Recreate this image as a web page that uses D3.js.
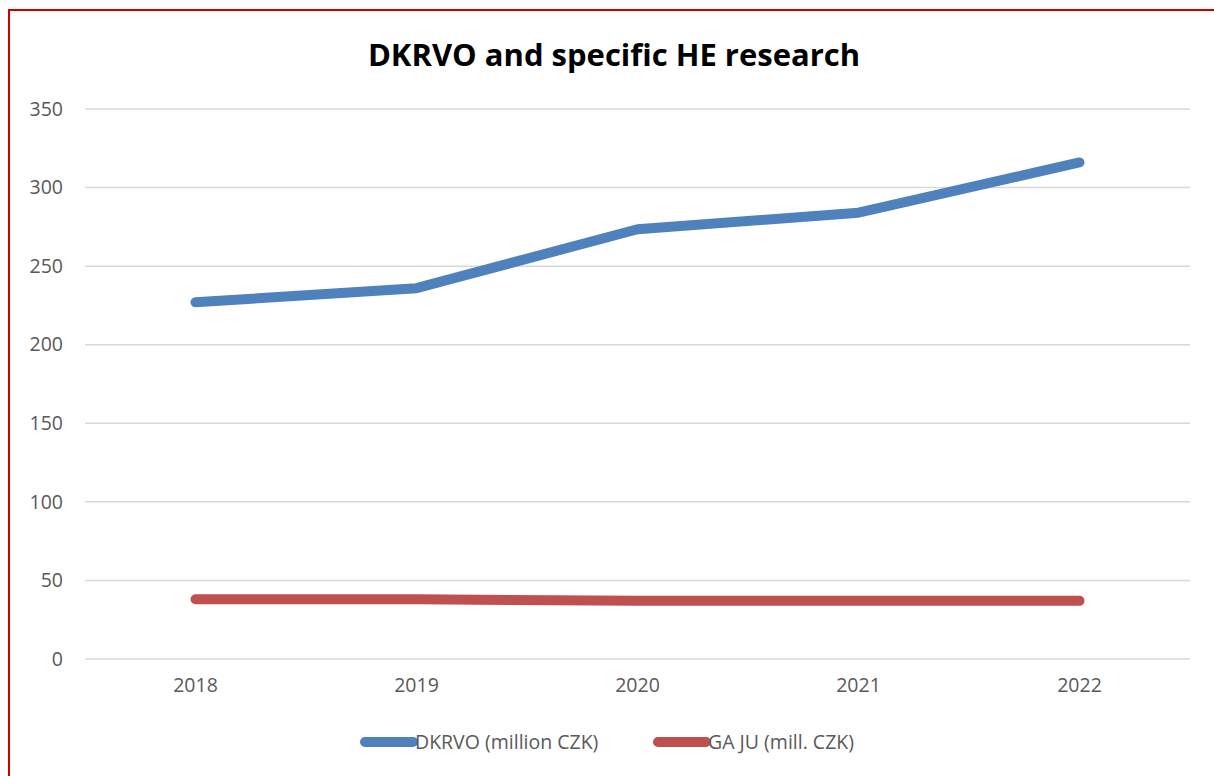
<!DOCTYPE html>
<html>
<head>
<meta charset="utf-8">
<script src="https://cdn.jsdelivr.net/npm/d3@7"></script>
<style>
  body { margin: 0; background: #fff; }
  svg text { font-family: "Open Sans", "Noto Sans", sans-serif; }
</style>
</head>
<body>
<svg id="chart" width="1214" height="776"></svg>
<script>
var years = ["2018", "2019", "2020", "2021", "2022"],
	dkrvo = [227, 236, 273.5, 284, 316],
	gaju = [38, 38, 37, 37, 37],
	yTicks = [0, 50, 100, 150, 200, 250, 300, 350],
	seriesNames = ["DKRVO (million CZK)", "GA JU (mill. CZK)"],
	seriesColors = ["#4f81bd", "#c0504d"];

var svg = d3.select("#chart"),
	plotLeft = 85, plotRight = 1190, plotTop = 109, plotBottom = 659;

// red outer frame (only left and top visible)
svg.append("rect")
	.attr("x", 9).attr("y", 10)
	.attr("width", 1240).attr("height", 800)
	.attr("fill", "none").attr("stroke", "#cc0000").attr("stroke-width", 2);

var x = d3.scaleBand().domain(years).range([plotLeft, plotRight]);
var y = d3.scaleLinear().domain([0, 350]).range([plotBottom, plotTop]);

// gridlines
svg.append("g")
	.selectAll("line")
	.data(yTicks)
	.enter().append("line")
	.attr("x1", plotLeft).attr("x2", plotRight)
	.attr("y1", function(d){ return y(d); })
	.attr("y2", function(d){ return y(d); })
	.attr("stroke", "#d9d9d9").attr("stroke-width", 1.5);

// y axis labels
var yAxis = svg.append("g")
	.attr("transform", "translate(" + (plotLeft - 22) + ",0)")
	.call(d3.axisLeft(y).tickValues(yTicks).tickSize(0).tickPadding(0));
yAxis.select(".domain").remove();
yAxis.selectAll("text")
	.attr("fill", "#595959")
	.style("font-size", "19.5px");

// x axis labels
var xAxis = svg.append("g")
	.attr("transform", "translate(0," + (plotBottom + 11) + ")")
	.call(d3.axisBottom(x).tickSize(0).tickPadding(8));
xAxis.select(".domain").remove();
xAxis.selectAll("text")
	.attr("fill", "#595959")
	.style("font-size", "19.5px");

// title
svg.append("text")
	.attr("x", 614).attr("y", 66)
	.attr("text-anchor", "middle")
	.attr("fill", "#000")
	.style("font-size", "31px")
	.style("font-weight", "bold")
	.text("DKRVO and specific HE research");

// lines
var line = d3.line()
	.x(function(d, i){ return x(years[i]) + x.bandwidth() / 2; })
	.y(function(d){ return y(d); });

[dkrvo, gaju].forEach(function(s, i){
	svg.append("path")
		.datum(s)
		.attr("d", line)
		.attr("fill", "none")
		.attr("stroke", seriesColors[i])
		.attr("stroke-width", 10)
		.attr("stroke-linecap", "round")
		.attr("stroke-linejoin", "round");
});

// legend
var legendX = [365, 658];
seriesNames.forEach(function(name, i){
	var g = svg.append("g").attr("transform", "translate(" + legendX[i] + ",742)");
	g.append("line")
		.attr("x1", 0).attr("x2", 48)
		.attr("stroke", seriesColors[i])
		.attr("stroke-width", 10)
		.attr("stroke-linecap", "round");
	g.append("text")
		.attr("x", 50).attr("y", 7)
		.attr("fill", "#595959")
		.style("font-size", "19.5px")
		.text(name);
});
</script>
</body>
</html>
